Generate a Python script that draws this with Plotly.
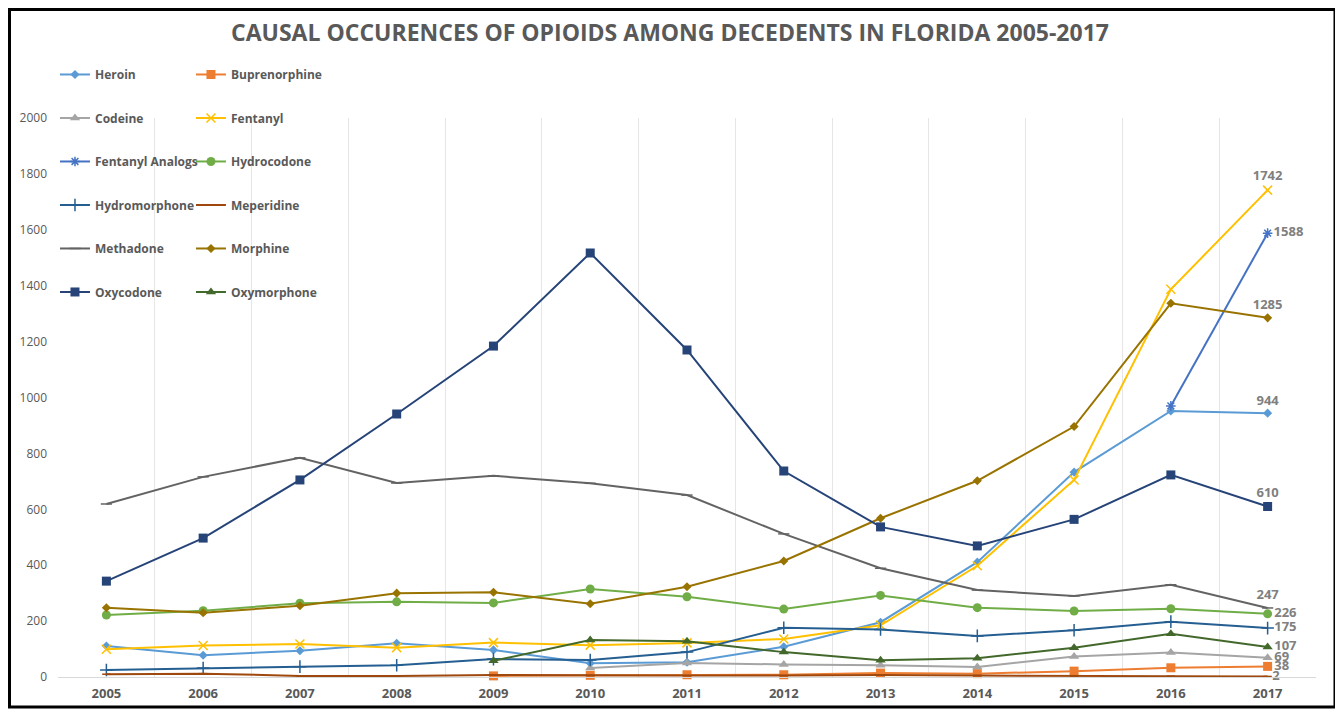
import plotly.graph_objects as go

years = list(range(2005, 2018))

heroin = [111, 78, 94, 121, 97, 49, 53, 108, 196, 411, 733, 952, 944]
buprenorphine = [None, None, None, None, 4, 6, 8, 8, 14, 12, 21, 33, 38]
codeine = [None, None, None, None, None, 32, 50, 45, 42, 36, 73, 88, 69]
fentanyl = [99, 113, 118, 105, 123, 114, 122, 136, 185, 398, 705, 1387, 1742]
fentanyl_analogs = [None, None, None, None, None, None, None, None, None, None, None, 970, 1588]
hydrocodone = [222, 237, 264, 269, 265, 315, 287, 243, 292, 248, 236, 244, 226]
hydromorphone = [25, 32, 37, 42, 64, 61, 89, 176, 170, 147, 167, 198, 175]
meperidine = [10, 12, 4, 4, 7, 5, 5, 5, 7, 5, 3, 3, 2]
methadone = [619, 716, 784, 694, 720, 693, 651, 512, 389, 311, 290, 330, 247]
morphine = [248, 230, 255, 300, 303, 262, 323, 415, 568, 702, 896, 1337, 1285]
oxycodone = [343, 497, 705, 941, 1184, 1517, 1170, 737, 537, 469, 564, 723, 610]
oxymorphone = [None, None, None, None, 58, 132, 128, 89, 60, 67, 105, 155, 107]

title_text = "CAUSAL OCCURENCES OF OPIOIDS AMONG DECEDENTS IN FLORIDA 2005-2017"

# name, values, colour, symbol, size, legend column, label position at 2017
series = [
    ("Heroin", heroin, "#5B9BD5", "diamond", 7, "legend", "top center"),
    ("Buprenorphine", buprenorphine, "#ED7D31", "square", 9, "legend2", "middle right"),
    ("Codeine", codeine, "#A5A5A5", "triangle-up", 9, "legend", "middle right"),
    ("Fentanyl", fentanyl, "#FFC000", "x-thin-open", 9, "legend2", "top center"),
    ("Fentanyl Analogs", fentanyl_analogs, "#4472C4", "asterisk-open", 8, "legend", "middle right"),
    ("Hydrocodone", hydrocodone, "#70AD47", "circle", 9, "legend2", "middle right"),
    ("Hydromorphone", hydromorphone, "#255E91", "cross-thin-open", 9, "legend", "middle right"),
    ("Meperidine", meperidine, "#9E480E", "line-ew-open", 6, "legend2", "middle right"),
    ("Methadone", methadone, "#636363", "line-ew-open", 8, "legend", "top center"),
    ("Morphine", morphine, "#997300", "diamond", 7, "legend2", "top center"),
    ("Oxycodone", oxycodone, "#264478", "square", 9, "legend", "top center"),
    ("Oxymorphone", oxymorphone, "#43682B", "triangle-up", 9, "legend2", "middle right"),
]

fig = go.Figure()
for i, (name, vals, col, sym, sz, leg, tpos) in enumerate(series):
    labels = [""] * (len(vals) - 1) + [str(vals[-1])]
    positions = ["middle right"] * (len(vals) - 1) + [tpos]
    open_sym = sym.endswith("-open")
    fig.add_trace(go.Scatter(
        x=years, y=vals, name=name, mode="lines+markers+text",
        text=labels, textposition=positions,
        textfont=dict(family="Open Sans", size=13, color="#808080", weight="bold"),
        line=dict(color=col, width=2),
        marker=dict(symbol=sym, size=sz, color=col,
                    line=dict(color=col, width=1.5 if open_sym else 0)),
        legend=leg, legendgroup=name, cliponaxis=False,
        connectgaps=False,
    ))

legend_common = dict(
    font=dict(family="Open Sans", size=12, color="#595959", weight="bold"),
    bgcolor="rgba(0,0,0,0)", tracegroupgap=24.5, traceorder="grouped",
    yanchor="top", xanchor="left", itemwidth=30,
)

fig.update_layout(
    width=1343, height=711,
    paper_bgcolor="white", plot_bgcolor="white",
    margin=dict(l=50, r=35, t=110, b=42),
    title=dict(text=title_text, x=662 / 1343, xref="container", xanchor="center",
               y=1 - 25 / 711, yref="container", yanchor="middle",
               font=dict(family="Open Sans", size=23, color="#595959", weight="bold")),
    xaxis=dict(range=[2004.5, 2017.5], tickmode="array", tickvals=years,
               ticktext=[str(y) for y in years], showgrid=False, zeroline=False,
               showline=True, linecolor="#D9D9D9", linewidth=1, ticks="",
               ticklabelstandoff=4,
               tickfont=dict(family="Open Sans", size=13, color="#595959", weight="bold"),
               minor=dict(showgrid=True, tick0=2004.5, dtick=1, gridcolor="#E6E6E6",
                          gridwidth=1, ticks=""),
               fixedrange=True),
    yaxis=dict(range=[0, 2000], tickmode="linear", tick0=0, dtick=200,
               showgrid=False, zeroline=False, showline=False, ticks="",
               ticklabelstandoff=10,
               tickfont=dict(family="Open Sans", size=12, color="#595959")),
    legend=dict(x=-0.0024, y=1.1038, **legend_common),
    legend2=dict(x=0.1057, y=1.1038, **legend_common),
    shapes=[dict(type="rect", xref="paper", yref="paper",
                 x0=-0.03855, x1=1.0151, y0=-0.05367, y1=1.1941,
                 line=dict(color="black", width=3), fillcolor="rgba(0,0,0,0)",
                 layer="below")],
    showlegend=True,
)

fig.write_html("out.html")
